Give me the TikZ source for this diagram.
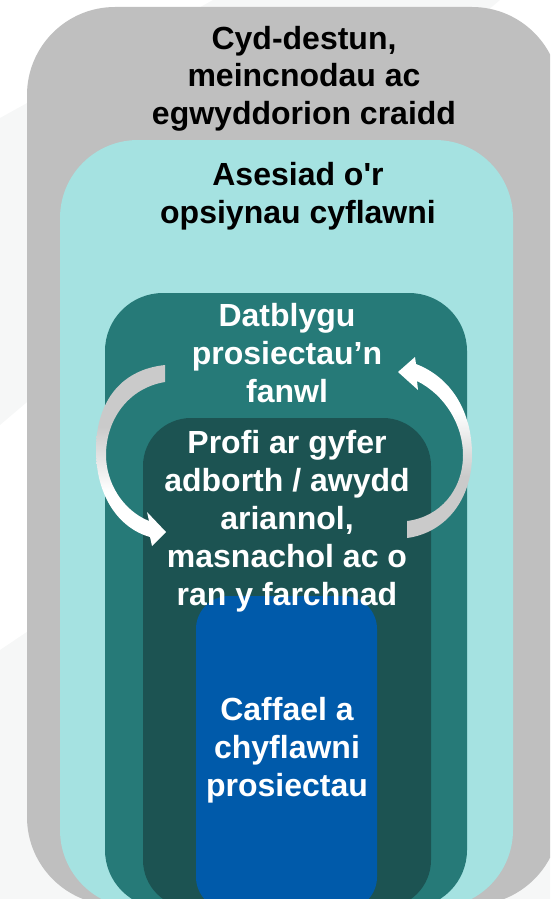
\documentclass[tikz,border=0pt]{standalone}
\usepackage{fontspec}
\setmainfont{Liberation Sans}

\definecolor{bggray}{HTML}{F6F7F7}
\definecolor{boxgray}{HTML}{BFBFBF}
\definecolor{boxcyan}{HTML}{A5E2E1}
\definecolor{boxteal}{HTML}{267A78}
\definecolor{boxdark}{HTML}{1C5352}
\definecolor{boxblue}{HTML}{005AAA}
\definecolor{arrowgray}{HTML}{CACACA}

\pgfdeclareverticalshading{fadeleft}{100bp}{color(0bp)=(white); color(40bp)=(white); color(58bp)=(arrowgray); color(100bp)=(arrowgray)}
\pgfdeclareverticalshading{faderight}{100bp}{color(0bp)=(arrowgray); color(42bp)=(arrowgray); color(60bp)=(white); color(100bp)=(white)}

\begin{document}
\begin{tikzpicture}[x=1pt,y=-1pt,
  boxtext/.style={font=\bfseries\fontsize{32}{38}\selectfont,align=center,inner sep=0pt,anchor=base}]
\useasboundingbox (0,0) rectangle (550,899);
\clip (0,0) rectangle (550,899);
% background
\fill[bggray] (0,118)--(213,0)--(500,0)--(0,425)--cycle;
\fill[bggray] (0,650)--(550,280)--(550,899)--(0,899)--cycle;
% nested boxes
\fill[boxgray,rounded corners=88pt] (27,7) rectangle (560,905);
\fill[boxcyan,rounded corners=78pt] (60,140) rectangle (513,908);
\fill[boxteal,rounded corners=58pt] (105,293) rectangle (467,908);
\fill[boxdark,rounded corners=48pt] (143,418) rectangle (431,908);
\fill[boxblue,rounded corners=33pt] (196,596) rectangle (377,910);
% curved arrows
\shade[shading=fadeleft] (165,365) .. controls (118,370) and (96,405) .. (96,450)
  .. controls (96,495) and (118,528) .. (150,537) -- (152,546) -- (166,532) -- (147,512) -- (149,521)
  .. controls (122,510) and (106,482) .. (106,455) .. controls (106,420) and (128,388) .. (165,382) -- cycle;
\shade[shading=faderight] (407,538) .. controls (445,533) and (472,500) .. (472,455)
  .. controls (472,410) and (450,377) .. (416,364) -- (415,357) -- (398,372) -- (418,390) -- (417,381)
  .. controls (445,395) and (463,425) .. (463,455) .. controls (463,490) and (440,517) .. (407,521) -- cycle;
% texts (base = last line)
\node[boxtext,font=\bfseries\fontsize{32}{37.5}\selectfont] (context) at (304,124) {Cyd-destun,\\meincnodau ac\\egwyddorion craidd};
\node[boxtext] (options) at (298,223) {Asesiad o\textquotesingle r\\opsiynau cyflawni};
\node[boxtext,text=white] (develop) at (287,402) {Datblygu\\prosiectau’n\\fanwl};
\node[boxtext,text=white] (testing) at (287,605) {Profi ar gyfer\\adborth / awydd\\ariannol,\\masnachol ac o\\ran y farchnad};
\node[boxtext,text=white] (deliver) at (287,796) {Caffael a\\chyflawni\\prosiectau};
\end{tikzpicture}
\end{document}
